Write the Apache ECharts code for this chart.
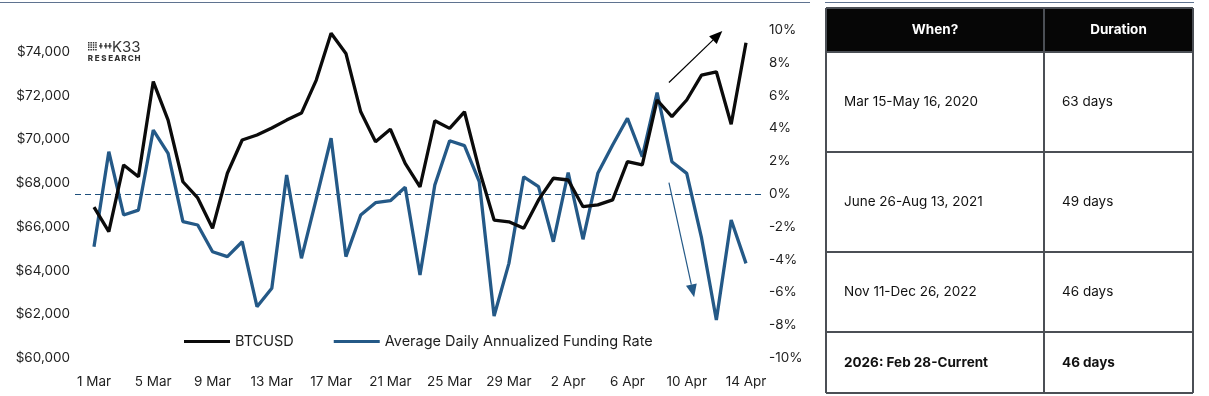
<!DOCTYPE html>
<html>
<head>
<meta charset="utf-8">
<script src="https://cdn.jsdelivr.net/npm/echarts@6/dist/echarts.min.js"></script>
<style>
  html, body { margin: 0; padding: 0; background: #fff; }
  #chart { width: 1209px; height: 396px; }
</style>
</head>
<body>
<div id="chart"></div>
<script>
// daily categories, 1 Mar - 14 Apr
const days = [
  '1 Mar', '2 Mar', '3 Mar', '4 Mar', '5 Mar', '6 Mar', '7 Mar', '8 Mar', '9 Mar', '10 Mar',
  '11 Mar', '12 Mar', '13 Mar', '14 Mar', '15 Mar', '16 Mar', '17 Mar', '18 Mar', '19 Mar', '20 Mar',
  '21 Mar', '22 Mar', '23 Mar', '24 Mar', '25 Mar', '26 Mar', '27 Mar', '28 Mar', '29 Mar', '30 Mar',
  '31 Mar', '1 Apr', '2 Apr', '3 Apr', '4 Apr', '5 Apr', '6 Apr', '7 Apr', '8 Apr', '9 Apr',
  '10 Apr', '11 Apr', '12 Apr', '13 Apr', '14 Apr'
];
const btcusd = [
  66900, 65780, 68830, 68290, 72640, 70880, 68060, 67320, 65930, 68450,
  69970, 70200, 70520, 70880, 71200, 72710, 74850, 73930, 71260, 69890,
  70460, 68900, 67830, 70850, 70500, 71260, 68600, 66310, 66230, 65930,
  67230, 68220, 68140, 66920, 67000, 67230, 68980, 68830, 71800, 71040,
  71800, 72940, 73090, 70690, 74420
];
const fundingRate = [
  -3.21, 2.58, -1.28, -0.98, 3.90, 2.48, -1.69, -1.89, -3.52, -3.82,
  -2.91, -6.87, -5.75, 1.16, -3.92, -0.30, 3.40, -3.82, -1.28, -0.53,
  -0.41, 0.41, -4.94, 0.55, 3.25, 2.95, 0.75, -7.44, -4.23, 1.05,
  0.45, -2.91, 1.30, -2.76, 1.26, 2.99, 4.62, 2.27, 6.18, 1.97,
  1.26, -2.68, -7.68, -1.59, -4.23
];
// annotation arrows in data space: [category index, value]
const upArrow = [[38.8, 72600], [42.4, 74950]];   // left axis
const downArrow = [[38.8, 0.7], [40.5, -6.3]];    // right axis

const tableHeader = ['When?', 'Duration'];
const tableWhen = ['Mar 15-May 16, 2020', 'June 26-Aug 13, 2021', 'Nov 11-Dec 26, 2022', '2026: Feb 28-Current'];
const tableDuration = ['63 days', '49 days', '46 days', '46 days'];

const FONT = 'Inter, "Noto Sans", sans-serif';
const BLACK = '#0b0b0b';
const BLUE = '#245987';

const chart = echarts.init(document.getElementById('chart'));

chart.setOption({
  animation: false,
  textStyle: { fontFamily: FONT },
  grid: { left: 94, right: 463, top: 30, bottom: 38 },
  legend: {
    left: 179,
    top: 329,
    itemWidth: 46,
    itemHeight: 3,
    itemGap: 40,
    icon: 'rect',
    textStyle: { fontFamily: FONT, fontSize: 14.5, color: '#1e1e1e' },
    data: ['BTCUSD', 'Average Daily Annualized Funding Rate']
  },
  xAxis: {
    type: 'category',
    data: days,
    boundaryGap: false,
    axisLine: { show: false },
    axisTick: { show: false },
    axisLabel: { interval: 3, margin: 17, fontSize: 13.5, color: '#1e1e1e' }
  },
  yAxis: [{
    type: 'value',
    min: 60000,
    max: 75000,
    interval: 2000,
    splitLine: { show: false },
    axisLine: { show: false },
    axisTick: { show: false },
    axisLabel: {
      showMaxLabel: false,
      margin: 24,
      fontSize: 13.5,
      color: '#1e1e1e',
      formatter: v => '$' + v.toLocaleString('en-US')
    }
  }, {
    type: 'value',
    min: -10,
    max: 10,
    interval: 2,
    splitLine: { show: false },
    axisLine: { show: false },
    axisTick: { show: false },
    axisLabel: { margin: 23, fontSize: 13.5, color: '#1e1e1e', formatter: '{value}%' }
  }],
  series: [{
    name: 'BTCUSD',
    type: 'line',
    data: btcusd,
    yAxisIndex: 0,
    showSymbol: false,
    z: 3,
    itemStyle: { color: BLACK },
    lineStyle: { color: BLACK, width: 3.3 }
  }, {
    name: 'Average Daily Annualized Funding Rate',
    type: 'line',
    data: fundingRate,
    yAxisIndex: 1,
    showSymbol: false,
    z: 2,
    itemStyle: { color: BLUE },
    lineStyle: { color: BLUE, width: 3.3 }
  }]
});

// fractional category index -> pixel via the axes
function toPx(pt, yAxisIndex) {
  const i0 = Math.floor(pt[0]), i1 = Math.min(i0 + 1, days.length - 1);
  const a = chart.convertToPixel({ xAxisIndex: 0, yAxisIndex: yAxisIndex }, [i0, pt[1]]);
  const b = chart.convertToPixel({ xAxisIndex: 0, yAxisIndex: yAxisIndex }, [i1, pt[1]]);
  return [a[0] + (b[0] - a[0]) * (pt[0] - i0), a[1]];
}

function arrow(p0, p1, color) {
  const dx = p1[0] - p0[0], dy = p1[1] - p0[1];
  const len = Math.sqrt(dx * dx + dy * dy);
  const ux = dx / len, uy = dy / len;
  const L = 13, W = 5.5;
  const bx = p1[0] - ux * L, by = p1[1] - uy * L;
  return [{
    type: 'line', z: 10,
    shape: { x1: p0[0], y1: p0[1], x2: bx, y2: by },
    style: { stroke: color, lineWidth: 1.2 }
  }, {
    type: 'polygon', z: 10,
    shape: { points: [p1, [bx - uy * W, by + ux * W], [bx + uy * W, by - ux * W]] },
    style: { fill: color }
  }];
}

const graphics = [];

// top rules
graphics.push({ type: 'line', shape: { x1: 0, y1: 2.5, x2: 810, y2: 2.5 }, style: { stroke: '#5f7390', lineWidth: 1 } });
graphics.push({ type: 'line', shape: { x1: 825, y1: 2.5, x2: 1194, y2: 2.5 }, style: { stroke: '#5f7390', lineWidth: 1 } });

// zero line
const zeroY = Math.round(chart.convertToPixel({ yAxisIndex: 1 }, 0)) + 0.5;
graphics.push({
  type: 'line', z: 1,
  shape: { x1: 75, y1: zeroY, x2: 764, y2: zeroY },
  style: { stroke: '#1d4f7c', lineWidth: 1, lineDash: [6, 4] }
});

// arrows
graphics.push(...arrow(toPx(upArrow[0], 0), toPx(upArrow[1], 0), '#000'));
graphics.push(...arrow(toPx(downArrow[0], 1), toPx(downArrow[1], 1), '#245987'));

// logo
for (let r = 0; r < 4; r++) {
  for (let c = 0; c < 4; c++) {
    graphics.push({ type: 'rect', shape: { x: 88 + c * 2.4, y: 42 + r * 2.3, width: 1.5, height: 1.5 }, style: { fill: '#333' } });
  }
}
[99, 104, 108].forEach(x => {
  graphics.push({ type: 'rect', shape: { x: x, y: 45.3, width: 3.6, height: 1.3 }, style: { fill: '#333' } });
  graphics.push({ type: 'rect', shape: { x: x + 1.2, y: 43, width: 1.3, height: 5.5 }, style: { fill: '#333' } });
});
graphics.push({ type: 'text', x: 112, y: 47, style: { text: 'K33', font: '400 15px ' + FONT, fill: '#333', verticalAlign: 'middle' } });
'RESEARCH'.split('').forEach((ch, i) => {
  graphics.push({ type: 'text', x: 90.5 + i * 6.7, y: 58.5, style: { text: ch, font: '800 8px ' + FONT, fill: '#333', align: 'center', verticalAlign: 'middle' } });
});

// table
const colX = [826, 1044, 1193];
const rowY = [8, 52, 152, 252, 332, 393];
graphics.push({ type: 'rect', shape: { x: colX[0], y: rowY[0], width: colX[2] - colX[0], height: rowY[1] - rowY[0] }, style: { fill: '#060606' } });
const border = { stroke: '#4b4f55', lineWidth: 2 };
colX.forEach(x => graphics.push({ type: 'line', z: 5, shape: { x1: x, y1: rowY[0], x2: x, y2: rowY[5] }, style: border }));
rowY.forEach(y => graphics.push({ type: 'line', z: 5, shape: { x1: colX[0], y1: y, x2: colX[2], y2: y }, style: border }));
tableHeader.forEach((t, i) => {
  graphics.push({
    type: 'text', z: 6, x: (colX[i] + colX[i + 1]) / 2, y: (rowY[0] + rowY[1]) / 2,
    style: { text: t, font: '700 13.5px ' + FONT, fill: '#fff', align: 'center', verticalAlign: 'middle' }
  });
});
tableWhen.forEach((t, r) => {
  const bold = r === tableWhen.length - 1 ? '700 ' : '400 ';
  const cy = (rowY[r + 1] + rowY[r + 2]) / 2;
  graphics.push({ type: 'text', z: 6, x: 844, y: cy, style: { text: t, font: bold + '13.5px ' + FONT, fill: '#111', verticalAlign: 'middle' } });
  graphics.push({ type: 'text', z: 6, x: 1062, y: cy, style: { text: tableDuration[r], font: bold + '13.5px ' + FONT, fill: '#111', verticalAlign: 'middle' } });
});

chart.setOption({ graphic: graphics });
</script>
</body>
</html>
